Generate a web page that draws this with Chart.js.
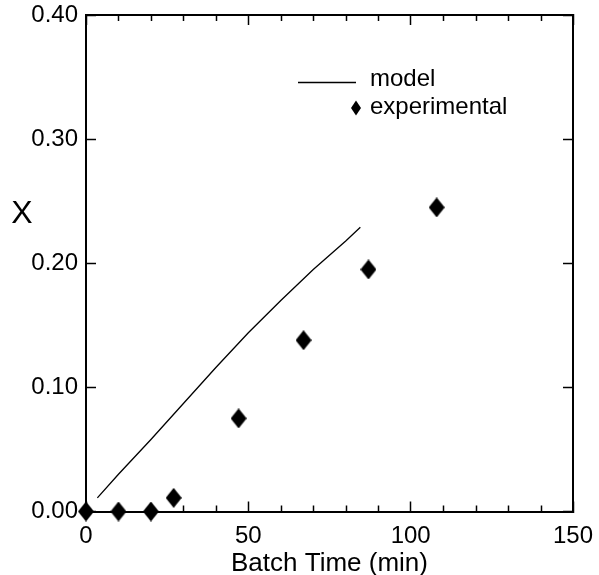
<!DOCTYPE html>
<html><head><meta charset="utf-8">
<script src="https://cdn.jsdelivr.net/npm/chart.js@4.4.1/dist/chart.umd.min.js"></script>
<style>html,body{margin:0;padding:0;background:#fff;}canvas{display:block}</style>
</head><body>
<canvas id="c" width="599" height="575"></canvas>
<script>
// ---- data ----
const modelLabel = 'model';
const expLabel = 'experimental';
const xTitle = 'Batch Time (min)';
const yTitle = 'X';
const modelX = [3.5, 10, 20, 30, 40, 50, 60, 70, 80, 84.5];
const modelY = [0.011, 0.030, 0.058, 0.087, 0.116, 0.144, 0.170, 0.195, 0.218, 0.229];
const expX = [0, 10, 20, 27, 47, 67, 87, 108];
const expY = [0.000, 0.000, 0.000, 0.011, 0.075, 0.138, 0.195, 0.245];
const xRange = [0, 150];
const yRange = [0, 0.40];
const xMajorStep = 50, xMinorStep = 10, yStep = 0.10;

// ---- styling ----
const FONT = "'Liberation Sans', Arial, Helvetica, sans-serif";
Chart.defaults.font.family = FONT;
Chart.defaults.color = '#000';

function diamond(w, h) {
  const c = document.createElement('canvas');
  c.width = w; c.height = h;
  const g = c.getContext('2d');
  g.fillStyle = '#000';
  g.beginPath();
  g.moveTo(w / 2, 0); g.lineTo(w, h / 2); g.lineTo(w / 2, h); g.lineTo(0, h / 2);
  g.closePath(); g.fill();
  return c;
}
const dataDiamond = diamond(16, 20);

const pts = (xs, ys) => xs.map((x, i) => ({x, y: ys[i]}));
const isMajorX = v => Math.abs(v / xMajorStep - Math.round(v / xMajorStep)) < 1e-6;

const annotPlugin = {
  id: 'annot',
  afterDraw(chart) {
    const ctx = chart.ctx;
    const ca = chart.chartArea;
    const xs = chart.scales.x;
    ctx.save();
    // minor x ticks (inward, top and bottom), positioned through the x scale
    ctx.setLineDash([]);
    ctx.strokeStyle = '#000';
    ctx.lineWidth = 1.5;
    for (let v = xRange[0] + xMinorStep; v < xRange[1]; v += xMinorStep) {
      if (isMajorX(v)) continue;
      const px = Math.round(xs.getPixelForValue(v)) + 0.5;
      ctx.beginPath();
      ctx.moveTo(px, ca.bottom); ctx.lineTo(px, ca.bottom - 6);
      ctx.stroke();
      ctx.beginPath();
      ctx.moveTo(px, ca.top); ctx.lineTo(px, ca.top + 6);
      ctx.stroke();
    }
    // y-axis title (upright)
    ctx.fillStyle = '#000';
    ctx.font = '32px ' + FONT;
    ctx.textAlign = 'center';
    ctx.textBaseline = 'middle';
    ctx.fillText(yTitle, 22, 214);
    // legend
    const ds = chart.data.datasets;
    ctx.font = '24px ' + FONT;
    ctx.textAlign = 'left';
    ctx.textBaseline = 'alphabetic';
    ctx.lineWidth = 1.3;
    ctx.beginPath(); ctx.moveTo(298, 82.5); ctx.lineTo(356, 82.5); ctx.stroke();
    ctx.fillText(ds[0].label, 370, 86);
    ctx.beginPath();
    ctx.moveTo(356, 100.5); ctx.lineTo(361, 108); ctx.lineTo(356, 115.5); ctx.lineTo(351, 108);
    ctx.closePath(); ctx.fill();
    ctx.fillText(ds[1].label, 370, 114);
    ctx.restore();
  }
};

const axisBorder = {color: '#000', width: 2};
const majorGrid = {drawOnChartArea: false, tickLength: -10, tickColor: '#000', tickWidth: 1.5};

function noOverflowX(s, h) { s.height = h; s.paddingLeft = 0; s.paddingRight = 0; }
function noOverflowY(s, w) { s.width = w; s.paddingTop = 0; s.paddingBottom = 0; }

new Chart(document.getElementById('c'), {
  type: 'scatter',
  data: {
    datasets: [
      {
        label: modelLabel,
        data: pts(modelX, modelY),
        showLine: true,
        borderColor: '#000',
        borderWidth: 1.3,
        pointRadius: 0,
        fill: false,
        clip: false
      },
      {
        label: expLabel,
        data: pts(expX, expY),
        showLine: false,
        pointStyle: dataDiamond,
        pointRadius: 9,
        backgroundColor: '#000',
        borderColor: '#000',
        clip: false
      }
    ]
  },
  options: {
    responsive: false,
    animation: false,
    devicePixelRatio: 1,
    layout: {padding: {left: 0, right: 26, top: 15, bottom: 0}},
    plugins: {legend: {display: false}, tooltip: {enabled: false}},
    scales: {
      x: {
        type: 'linear', position: 'bottom',
        min: xRange[0], max: xRange[1],
        ticks: {stepSize: xMajorStep, padding: 20, font: {size: 24}, color: '#000', maxRotation: 0,
                callback: v => String(v)},
        grid: majorGrid, border: axisBorder,
        title: {display: true, text: xTitle, color: '#000', font: {size: 26, lineHeight: 1}, padding: {top: 0, bottom: -2}},
        afterFit(s) { noOverflowX(s, 63.5); }
      },
      xTop: {
        type: 'linear', position: 'top',
        min: xRange[0], max: xRange[1],
        ticks: {stepSize: xMajorStep, display: false},
        grid: majorGrid, border: axisBorder,
        afterFit(s) { noOverflowX(s, 0); }
      },
      y: {
        type: 'linear', position: 'left',
        min: yRange[0], max: yRange[1],
        ticks: {stepSize: yStep, padding: 18, font: {size: 24}, color: '#000',
                callback: v => Number(v).toFixed(2)},
        grid: majorGrid, border: axisBorder,
        afterFit(s) { noOverflowY(s, 86); }
      },
      yRight: {
        type: 'linear', position: 'right',
        min: yRange[0], max: yRange[1],
        ticks: {stepSize: yStep, display: false},
        grid: majorGrid, border: axisBorder,
        afterFit(s) { noOverflowY(s, 0); }
      }
    }
  },
  plugins: [annotPlugin]
});
</script>
</body></html>
